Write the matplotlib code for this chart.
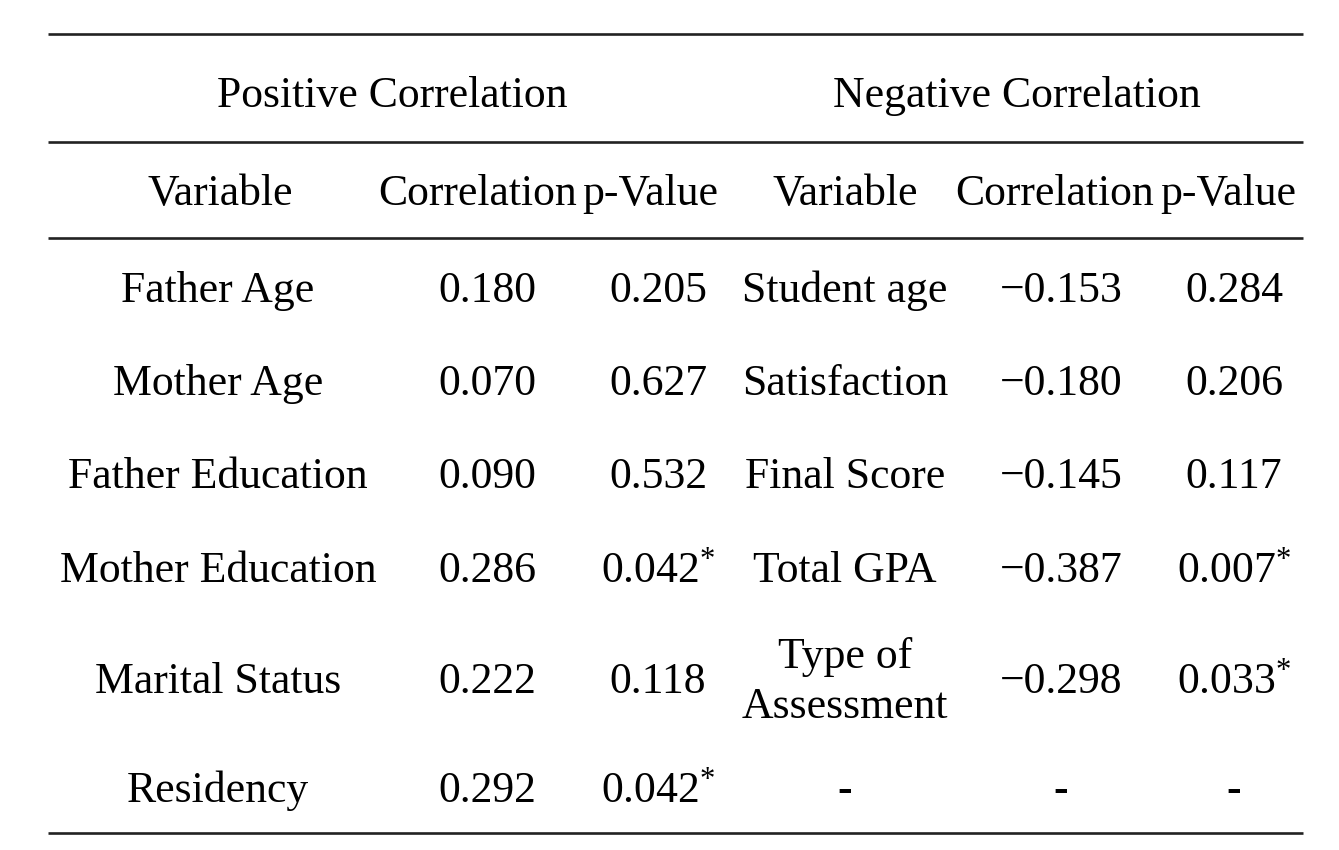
import matplotlib
matplotlib.use("Agg")
import matplotlib.pyplot as plt

plt.rcParams['font.family'] = ['Liberation Serif', 'DejaVu Serif']
plt.rcParams['mathtext.fontset'] = 'custom'
plt.rcParams['mathtext.rm'] = 'Liberation Serif'
plt.rcParams['mathtext.it'] = 'Liberation Serif:italic'

# ---- data ----
group_titles = ["Positive Correlation", "Negative Correlation"]
col_headers = ["Variable", "Correlation", "p-Value", "Variable", "Correlation", "p-Value"]
pos_vars = ["Father Age", "Mother Age", "Father Education", "Mother Education",
            "Marital Status", "Residency"]
pos_corr = ["0.180", "0.070", "0.090", "0.286", "0.222", "0.292"]
pos_p = ["0.205", "0.627", "0.532", "0.042", "0.118", "0.042"]
pos_sig = [False, False, False, True, False, True]
neg_vars = ["Student age", "Satisfaction", "Final Score", "Total GPA",
            "Type of\nAssessment", "-"]
neg_corr = ["\u22120.153", "\u22120.180", "\u22120.145", "\u22120.387", "\u22120.298", "-"]
neg_p = ["0.284", "0.206", "0.117", "0.007", "0.033", "-"]
neg_sig = [False, False, False, True, True, False]

W, H = 1339, 850
fig = plt.figure(figsize=(W / 100, H / 100), dpi=100)
ax = fig.add_axes([0, 0, 1, 1])
ax.set_xlim(0, W)
ax.set_ylim(H, 0)
ax.axis('off')

fs = 31.5
lc = '#222222'
lw = 1.9
x0, x1 = 48, 1303
for y in (34, 142, 238, 833):
    ax.plot([x0, x1], [y, y], color=lc, lw=lw, solid_capstyle='butt')

dy = 4
# group titles
ax.text(392, 92 + dy, group_titles[0], ha='center', va='center', fontsize=fs)
ax.text(1017, 92 + dy, group_titles[1], ha='center', va='center', fontsize=fs)

# column headers
hx = [220, 478, 650, 845, 1055, 1228]
for x, t in zip(hx, col_headers):
    ax.text(x, 190 + dy, t, ha='center', va='center', fontsize=fs)

row_y = [287, 380, 473, 567, 678, 787]
cx = [218, 487, 658, 845, 1061, 1234]


def pv(s, sig):
    return s + r"$^{*}$" if sig else s


for i, y in enumerate(row_y):
    yy = y + dy
    ax.text(cx[0], yy, pos_vars[i], ha='center', va='center', fontsize=fs)
    ax.text(cx[1], yy, pos_corr[i], ha='center', va='center', fontsize=fs)
    ax.text(cx[2], yy, pv(pos_p[i], pos_sig[i]), ha='center', va='center', fontsize=fs)
    ax.text(cx[3], yy, neg_vars[i], ha='center', va='center', fontsize=fs,
            linespacing=1.3, fontweight='bold' if neg_vars[i] == '-' else 'normal')
    ax.text(cx[4], yy, neg_corr[i], ha='center', va='center', fontsize=fs,
            fontweight='bold' if neg_corr[i] == '-' else 'normal')
    ax.text(cx[5], yy, pv(neg_p[i], neg_sig[i]), ha='center', va='center', fontsize=fs,
            fontweight='bold' if neg_p[i] == '-' else 'normal')

fig.savefig("out.png", dpi=100)
